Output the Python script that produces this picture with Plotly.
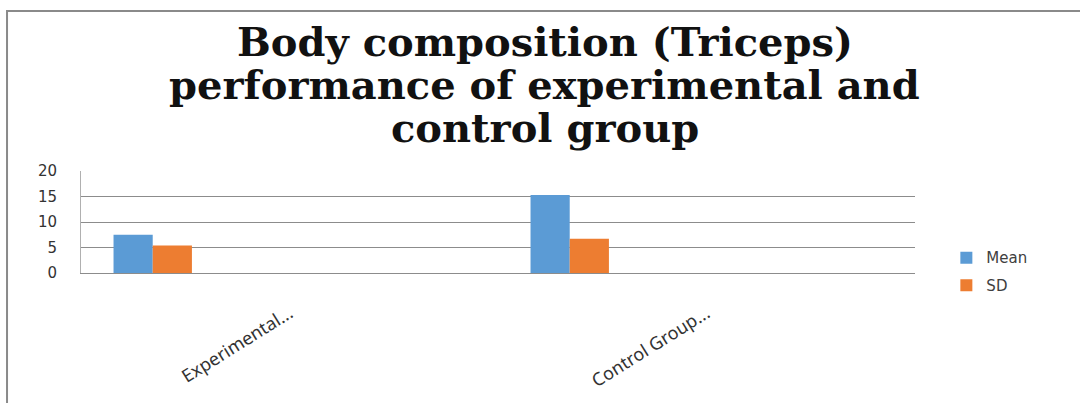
"""Grouped bar chart: triceps body composition, experimental vs control."""

import plotly.graph_objects as go

categories = ["Experimental...", "Control Group..."]
mean_values = [7.5, 15.3]
sd_values = [5.4, 6.7]
y_ticks = [0, 5, 10, 15, 20]

title_lines = [
    "Body composition (Triceps)",
    "performance of experimental and",
    "control group",
]

MEAN_COLOR = "#5B9BD5"
SD_COLOR = "#ED7D31"
GRID_COLOR = "#8c8c8c"

# bars sit at the left of each category slot, as in the source chart
BAR_WIDTH = 0.094
MEAN_OFFSET = -0.422

fig = go.Figure()
fig.add_trace(
    go.Bar(
        x=categories,
        y=mean_values,
        name="Mean",
        marker={"color": MEAN_COLOR, "line": {"width": 0}},
        width=BAR_WIDTH,
        offset=MEAN_OFFSET,
        legendgroup="mean",
    )
)
fig.add_trace(
    go.Bar(
        x=categories,
        y=sd_values,
        name="SD",
        marker={"color": SD_COLOR, "line": {"width": 0}},
        width=BAR_WIDTH,
        offset=MEAN_OFFSET + BAR_WIDTH,
        legendgroup="sd",
    )
)

fig.update_layout(
    width=1080,
    height=403,
    barmode="overlay",
    plot_bgcolor="white",
    paper_bgcolor="white",
    margin={"l": 81, "r": 165, "t": 171, "b": 130},
    legend={
        "x": 1.0376,
        "xanchor": "left",
        "y": 0.31,
        "yanchor": "top",
        "font": {"family": "DejaVu Sans", "size": 15, "color": "#404040"},
        "tracegroupgap": 5,
        "traceorder": "grouped",
        "bgcolor": "rgba(0,0,0,0)",
    },
    showlegend=True,
    xaxis={
        "type": "category",
        "range": [-0.5, 1.5],
        "tickangle": -32,
        "tickfont": {"family": "Noto Sans", "size": 18, "color": "#333333"},
        "ticklabelstandoff": 22,
        "showgrid": False,
        "showline": True,
        "linecolor": GRID_COLOR,
        "linewidth": 1,
        "ticks": "",
        "automargin": False,
        "fixedrange": True,
    },
    yaxis={
        "range": [0, 20],
        "tickvals": y_ticks,
        "tickfont": {"family": "DejaVu Sans", "size": 15, "color": "#333333"},
        "showgrid": True,
        "gridcolor": GRID_COLOR,
        "gridwidth": 1,
        "showline": True,
        "linecolor": "#b0b0b0",
        "linewidth": 1,
        "zeroline": False,
        "ticks": "",
        "ticklabelstandoff": 20,
        "automargin": False,
        "fixedrange": True,
    },
)

# title, one line per annotation so the line spacing matches the source
title_y = [2.27, 1.85, 1.43]
for line, y in zip(title_lines, title_y):
    fig.add_annotation(
        text=line,
        xref="paper",
        yref="paper",
        x=0.556,
        y=y,
        xanchor="center",
        yanchor="middle",
        showarrow=False,
        font={"family": "DejaVu Serif", "size": 40, "color": "#111111", "weight": "bold"},
    )

# outer chart frame: only the top and left edges are inside the crop
fig.add_shape(
    type="rect",
    xref="paper",
    yref="paper",
    x0=-0.0887,
    x1=1.4,
    y0=-2.5,
    y1=2.569,
    line={"color": "#8a8a8a", "width": 2},
    fillcolor="rgba(0,0,0,0)",
    layer="below",
)

fig.write_html(
    "out.html",
    config={"displayModeBar": False},
    post_script="document.body.style.margin = '0';",
)
